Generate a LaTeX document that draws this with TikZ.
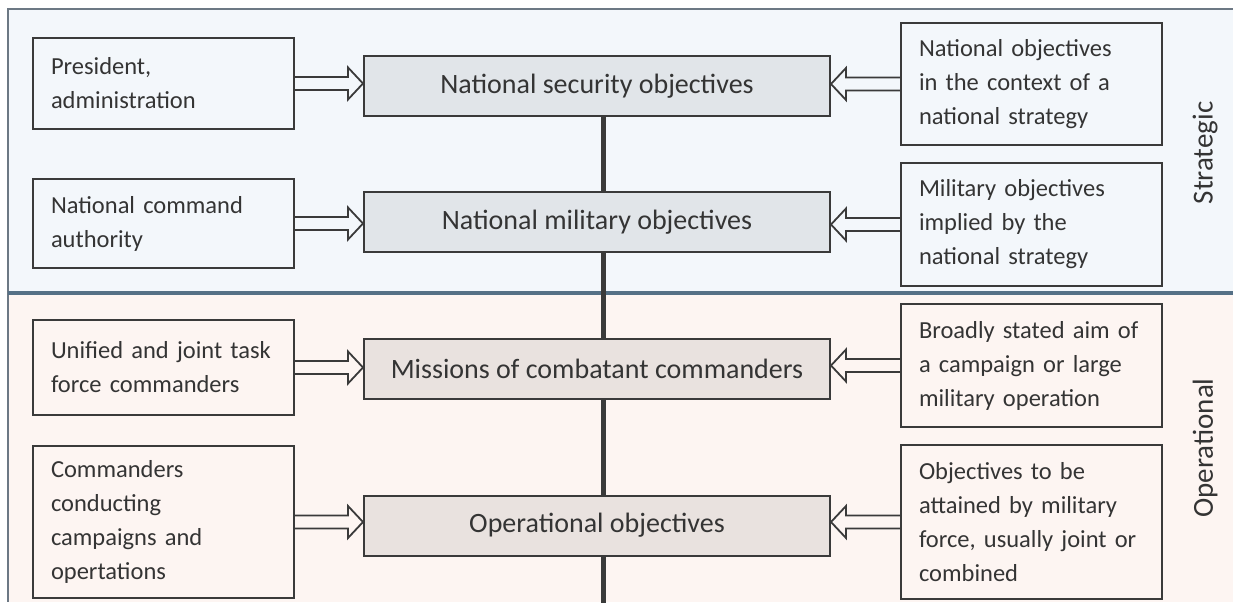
\documentclass[tikz,border=0pt]{standalone}
\usepackage{fontspec}
\setmainfont{Carlito}
\usepackage{xcolor}
\usepackage{tikz}
\usetikzlibrary{calc}
\definecolor{inkgray}{RGB}{52, 52, 52}
\definecolor{edgegray}{RGB}{58, 58, 58}
\definecolor{stratsky}{RGB}{243, 247, 251}
\definecolor{opersand}{RGB}{253, 245, 242}
\definecolor{stratcore}{RGB}{225, 229, 233}
\definecolor{opercore}{RGB}{233, 226, 223}
\definecolor{bandrule}{RGB}{85, 112, 134}
\definecolor{bandedge}{RGB}{108, 120, 132}

\begin{document}
\begin{tikzpicture}[x=1pt, y=-1pt,
  sidebox/.style={draw=edgegray, line width=2pt, text width=225pt, inner xsep=18pt, align=left, text=inkgray, font=\fontsize{24.5}{34}\selectfont},
  corebox/.style={draw=edgegray, line width=2pt, minimum width=466pt, minimum height=60pt, text=inkgray, font=\fontsize{28}{34}\selectfont},
  feed/.style={draw=edgegray, line width=1.8pt, to path={let \p1=(\tikztostart), \p2=(\tikztotarget), \n1={ifthenelse(\x2>\x1,1,-1)} in
    (\x1,\y1+6.5pt) -- (\x2-\n1*15pt,\y1+6.5pt) -- (\x2-\n1*15pt,\y1+16pt) -- (\x2,\y1)
    -- (\x2-\n1*15pt,\y1-16pt) -- (\x2-\n1*15pt,\y1-6.5pt) -- (\x1,\y1-6.5pt)}},
  spine/.style={edgegray, line width=5pt},
  tier/.style={rotate=90, text=inkgray, font=\fontsize{29}{34}\selectfont}]
\useasboundingbox (0,0) rectangle (1233,602);

% the two bands
\fill[stratsky] (8,9) rectangle (1233,293);
\fill[opersand] (8,293) rectangle (1233,602);
\draw[bandedge, line width=2pt] (1233,9) -- (8,9) -- (8,602);
\draw[bandrule, line width=4pt] (8,293) -- (1233,293);

% who sets the objectives
\node[sidebox, minimum height=91pt] (l1) at (163.5,83.5) {President,\\administration};
\node[sidebox, minimum height=89pt] (l2) at (163.5,223.5) {National command\\authority};
\node[sidebox, minimum height=95pt] (l3) at (163.5,367.5) {Unified and joint task\\force commanders};
\node[sidebox, minimum height=152pt] (l4) at (163.5,522) {Commanders\\conducting\\campaigns and\\opertations};

% what the objectives mean
\node[sidebox, minimum height=122pt] (r1) at (1031.5,84) {National objectives\\in the context of a\\national strategy};
\node[sidebox, minimum height=123pt] (r2) at (1031.5,224.5) {Military objectives\\implied by the\\national strategy};
\node[sidebox, minimum height=123pt] (r3) at (1031.5,365.5) {Broadly stated aim of\\a campaign or large\\military operation};
\node[sidebox, minimum height=154pt] (r4) at (1031.5,522) {Objectives to be\\attained by military\\force, usually joint or\\combined};

% the chain of objectives
\foreach \i/\y/\tint/\txt in {1/86/stratcore/National security objectives, 2/222/stratcore/National military objectives,
    3/369/opercore/Missions of combatant commanders, 4/525.5/opercore/Operational objectives} {
    \node[corebox, fill=\tint] (c\i) at (597,\y) {\txt};
    \draw[feed] (l\i.east) to (l\i.east -| c\i.west);
    \draw[feed] (r\i.west) to (r\i.west -| c\i.east);
}
\coordinate (spinefoot) at (603,604);
\foreach \a/\b in {1/2, 2/3, 3/4}
    \draw[spine] ([xshift=6pt]c\a.south) -- ([xshift=6pt]c\b.north);
\draw[spine] ([xshift=6pt]c4.south) -- (spinefoot);

\node[tier] (strat) at (1205,153) {Strategic};
\node[tier] (oper) at (1205,448) {Operational};
\end{tikzpicture}
\end{document}
